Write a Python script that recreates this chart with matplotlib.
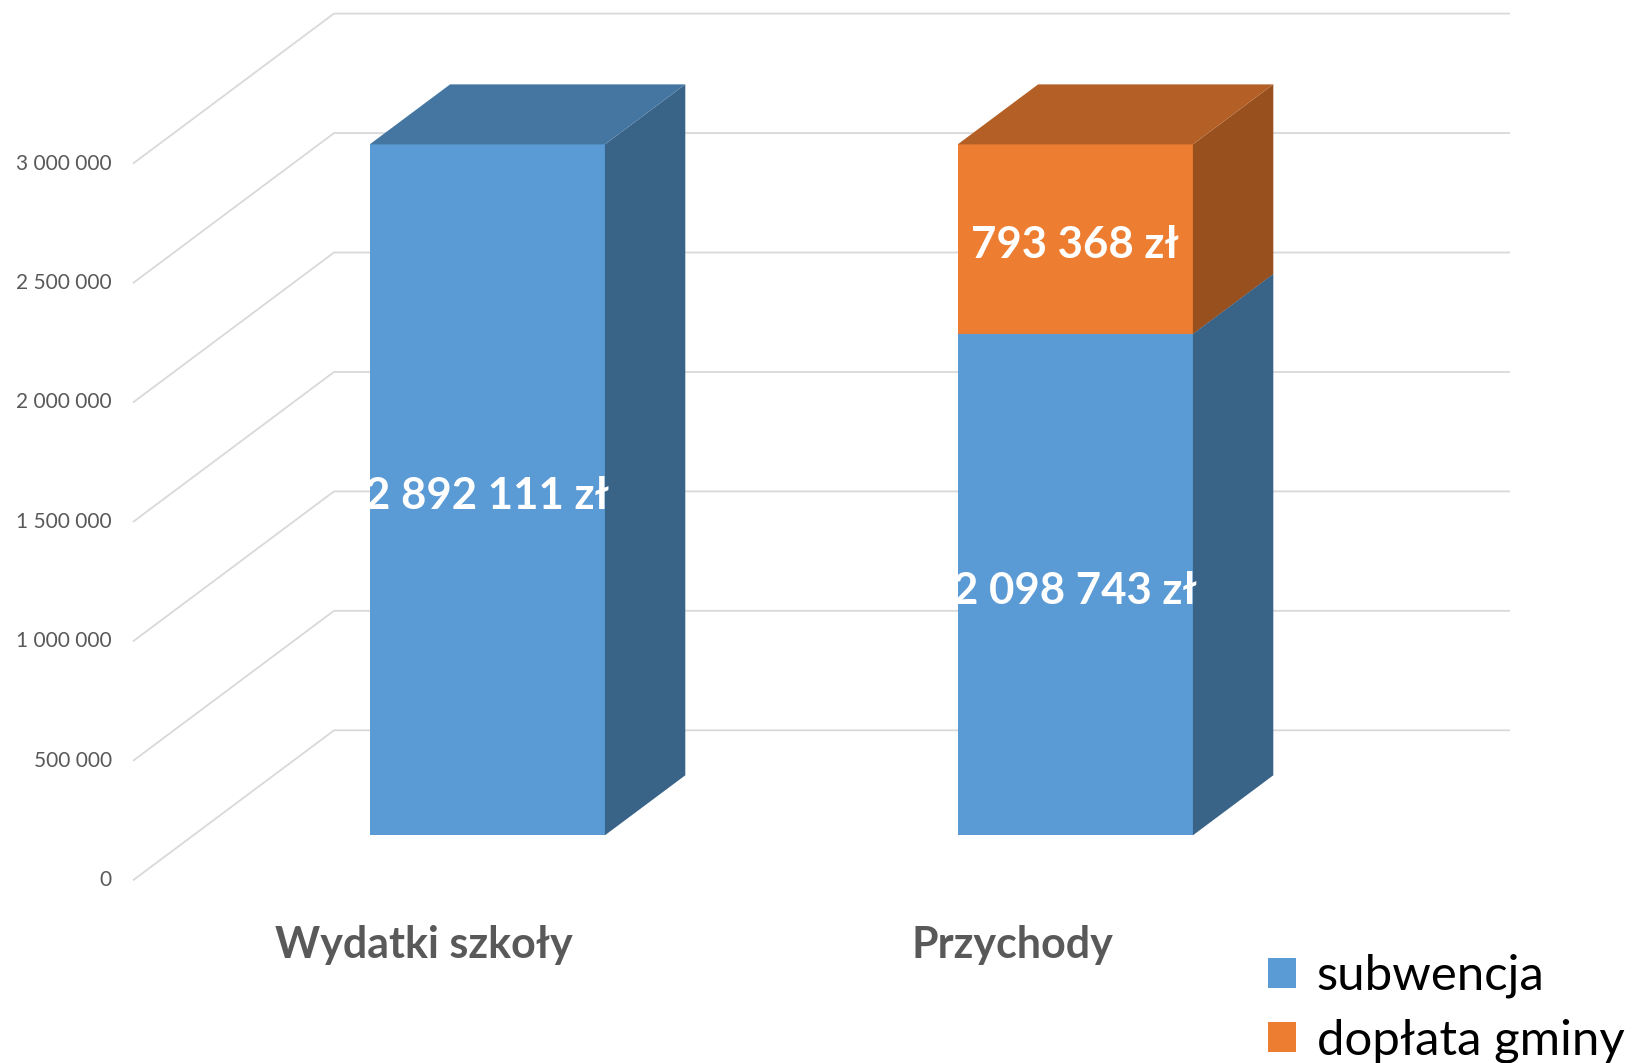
import matplotlib
matplotlib.use('Agg')
import matplotlib.pyplot as plt
from matplotlib.patches import Polygon, Patch
import matplotlib.colors as mcolors

# ---- data ----
categories = ['Wydatki szkoły', 'Przychody']
series_names = ['subwencja', 'dopłata gminy']
subwencja = [2892111, 2098743]
doplata = [0, 793368]
tick_values = [0, 500000, 1000000, 1500000, 2000000, 2500000, 3000000]
tick_labels = ['0', '500 000', '1 000 000', '1 500 000', '2 000 000', '2 500 000', '3 000 000']

# ---- style ----
FONT = ['Lato', 'DejaVu Sans']
plt.rcParams['font.family'] = FONT
front_colors = ['#5B9BD5', '#ED7D31']
TEXT_GRAY = '#595959'
GRID = '#D9D9D9'


def shade(c, f):
    r, g, b = mcolors.to_rgb(c)
    return (r * f, g * f, b * f)


W, H = 1633, 1063
fig = plt.figure(figsize=(W / 100, H / 100), dpi=100)
ax = fig.add_axes([0, 0, 1, 1])
ax.axis('off')

# layout (pixel-based scale of the pseudo-3D projection)
px_per_x = 588.0
px_per_val = 238.9 / 1e6
x0_px = 427.0
y0_px = 182.7
ax.set_xlim(-x0_px / px_per_x, (W - x0_px) / px_per_x)
ax.set_ylim(-y0_px / px_per_val, (H - y0_px) / px_per_val)
DX = 201.0 / px_per_x
DY = 150.0 / px_per_val

n = len(categories)
xl_floor = -0.5
xr_floor = n - 0.5

# grid lines on left wall + back wall
for v, lab in zip(tick_values, tick_labels):
    ax.plot([xl_floor, xl_floor + DX, xr_floor + DX], [v, v + DY, v + DY],
            color=GRID, lw=1.3, solid_capstyle='butt', zorder=1)
    ax.text(xl_floor - 21 / px_per_x, v, lab, ha='right', va='center',
            fontsize=15, color=TEXT_GRAY)

# bars
bw = 0.4
d0, d1 = 0.3, 0.7
label_drop = 6 / px_per_val


def draw_box(xc, y0, y1, color):
    xl = xc - bw / 2 + d0 * DX
    xr = xc + bw / 2 + d0 * DX
    ddx = (d1 - d0) * DX
    ddy = (d1 - d0) * DY
    yb = y0 + d0 * DY
    yt = y1 + d0 * DY
    front = [(xl, yb), (xr, yb), (xr, yt), (xl, yt)]
    side = [(xr, yb), (xr + ddx, yb + ddy), (xr + ddx, yt + ddy), (xr, yt)]
    top = [(xl, yt), (xr, yt), (xr + ddx, yt + ddy), (xl + ddx, yt + ddy)]
    ax.add_patch(Polygon(front, closed=True, facecolor=color, edgecolor='none', zorder=3))
    ax.add_patch(Polygon(side, closed=True, facecolor=shade(color, 0.64), edgecolor='none', zorder=3))
    ax.add_patch(Polygon(top, closed=True, facecolor=shade(color, 0.76), edgecolor='none', zorder=3))


def fmt(v):
    return f"{v:,}".replace(',', ' ') + ' zł'


for i in range(n):
    base = 0
    for vals, col in zip([subwencja, doplata], front_colors):
        v = vals[i]
        if v <= 0:
            continue
        draw_box(i, base, base + v, col)
        ax.text(i + d0 * DX, base + v / 2 + d0 * DY - label_drop, fmt(v), ha='center', va='center',
                fontsize=31.5, fontweight='bold', color='white', zorder=5)
        base += v
    ax.annotate(categories[i], xy=(i, 0), xytext=(-3 * 0.72, -65 * 0.72), textcoords='offset points',
                ha='center', va='center', fontsize=31, fontweight='bold', color=TEXT_GRAY)

handles = [Patch(facecolor=c, edgecolor='none') for c in front_colors]
fig.legend(handles, series_names, loc='upper left', bbox_to_anchor=(1268 / W, 1 - 954 / H),
           frameon=False, fontsize=35.4, handlelength=0.57, handleheight=0.57,
           handletextpad=0.42, labelspacing=0.41, borderpad=0, borderaxespad=0)

fig.savefig('out.png', dpi=100)
